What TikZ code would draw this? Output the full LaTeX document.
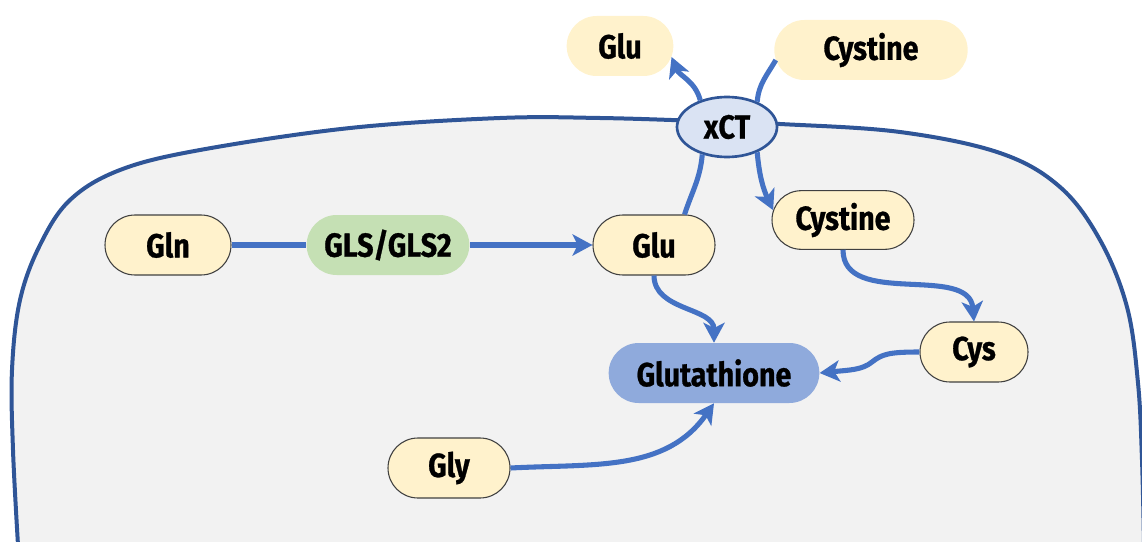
\documentclass[tikz,border=0pt]{standalone}
\usepackage{fontspec}
\setmainfont{Fira Sans}[FakeStretch=0.86, BoldFeatures={FakeBold=0.8}]
\usetikzlibrary{arrows.meta,shapes.misc,shapes.geometric}

\definecolor{metfill}{HTML}{FFF2CC}
\definecolor{metline}{HTML}{404040}
\definecolor{enzfill}{HTML}{C5E0B4}
\definecolor{gshfill}{HTML}{8FAADC}
\definecolor{xctfill}{HTML}{DAE3F3}
\definecolor{membrane}{HTML}{2F5597}
\definecolor{flow}{HTML}{4472C4}
\definecolor{cytosol}{HTML}{F2F2F2}

\tikzset{
  lbl/.style={font=\fontsize{25}{27}\selectfont\bfseries, text=black},
  pill/.style={lbl, rounded rectangle, inner sep=0pt, minimum height=45pt},
  metab/.style={pill, fill=metfill, draw=metline, line width=0.8pt},
  outer/.style={pill, fill=metfill},
  enzyme/.style={pill, fill=enzfill},
  product/.style={pill, fill=gshfill},
  transporter/.style={lbl, ellipse, inner sep=0pt, minimum width=75pt, minimum height=45pt,
    fill=xctfill, draw=membrane, line width=2pt},
  link/.style={draw=flow, line width=3.8pt},
  flowarrow/.style={link, -{Stealth[length=15pt,width=16pt,inset=4pt]}},
}

\begin{document}
\begin{tikzpicture}[x=0.75pt, y=-0.75pt]
\useasboundingbox (0,0) rectangle (1142,542);
\clip (0,0) rectangle (1142,542);

% cell membrane and cytosol
\fill[cytosol] plot[smooth, tension=0.6] coordinates {
  (18,545) (13,450) (12,370) (20,300) (40,245) (70,200) (120,170) (200,150)
  (350,128) (500,118) (600,118) (700,121) (780,124) (900,132) (1000,153)
  (1060,187) (1100,240) (1127,307) (1138,383) (1142,460) (1144,545)}
  -- (1150,560) -- (10,560) -- cycle;
\draw[membrane, line width=3pt] plot[smooth, tension=0.6] coordinates {
  (18,545) (13,450) (12,370) (20,300) (40,245) (70,200) (120,170) (200,150)
  (350,128) (500,118) (600,118) (700,121) (780,124) (900,132) (1000,153)
  (1060,187) (1100,240) (1127,307) (1138,383) (1142,460) (1144,545)};

% extracellular metabolites
\node[outer, minimum width=80pt] (gluout) at (620,46) {Glu};
\node[outer, minimum width=145pt] (cysout) at (871,50) {Cystine};

% transporter in the membrane
\node[transporter] (xct) at (727,127) {xCT};

% intracellular metabolites and enzymes
\node[metab, minimum width=94.5pt] (gln) at (168,245) {Gln};
\node[enzyme, minimum width=122pt] (gls) at (388,245) {GLS/GLS2};
\node[metab, minimum width=91.5pt] (gluin) at (654,245) {Glu};
\node[metab, minimum width=106.5pt, minimum height=44pt] (cysin) at (843,220) {Cystine};
\node[metab, minimum width=81pt] (cys) at (974,352) {Cys};
\node[product, minimum width=158pt] (gsh) at (714,373) {Glutathione};
\node[metab, minimum width=91.5pt] (gly) at (449,468) {Gly};

% glutaminolysis
\draw[link] (gln.east) -- (gls.west);
\draw[flowarrow] (gls.east) -- (gluin.west);

% xCT antiport
\draw[link] (gluin.45) to[out=72, in=-95] (xct.228);
\draw[flowarrow] (xct.135) to[out=105, in=-68] (gluout.-12);
\draw[link] (cysout.186) to[out=240, in=85] (xct.40);
\draw[flowarrow] (xct.-40) to[out=-85, in=115] (cysin.172);

% cystine reduction and glutathione synthesis
\draw[flowarrow] (cysin.south) to[out=-90, in=95] (cys.north);
\draw[flowarrow] (cys.west) .. controls +(-30,0) and +(10,-8) .. (872,362)
  .. controls +(-10,8) and +(30,-3) .. (gsh.east);
\draw[flowarrow] (gluin.south) to[out=-90, in=90] (gsh.north);
\draw[flowarrow] (gly.east) to[out=3, in=-125] (gsh.south);
\end{tikzpicture}
\end{document}
